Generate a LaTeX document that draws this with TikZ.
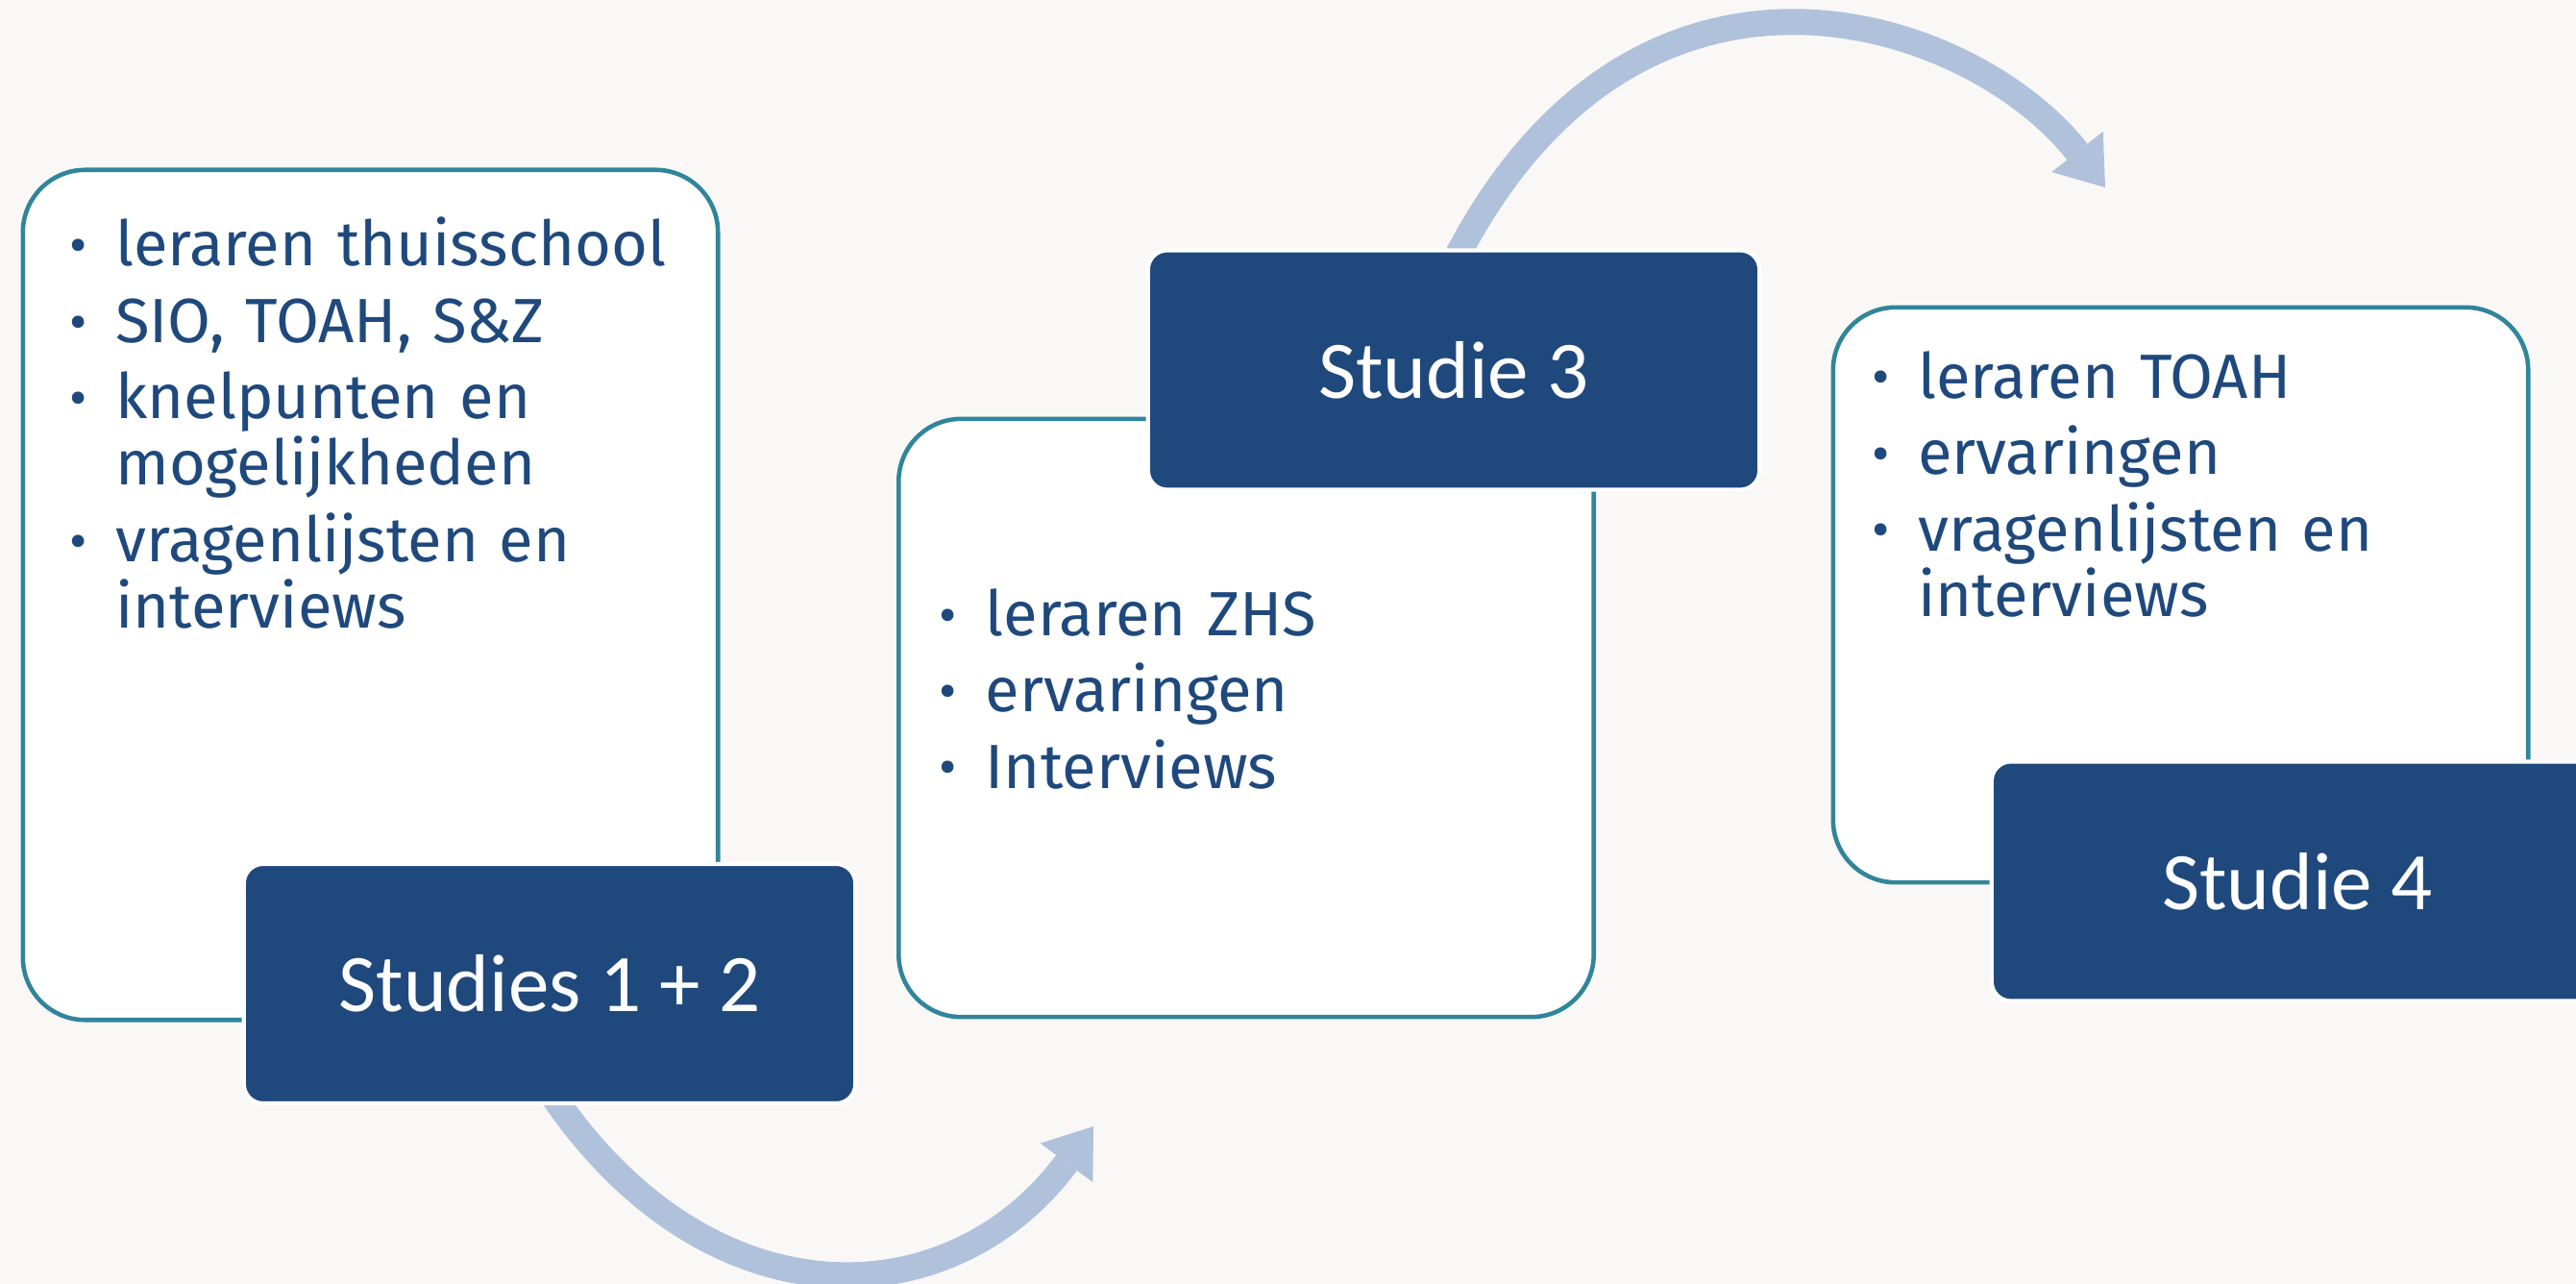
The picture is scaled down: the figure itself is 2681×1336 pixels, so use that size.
\documentclass[tikz,border=0pt]{standalone}
\usepackage{fontspec}
\setmainfont{Fira Sans}
\newfontfamily\titlefont{Carlito}
\usetikzlibrary{positioning, arrows.meta}

\definecolor{bgcol}{RGB}{249,248,246}
\definecolor{navy}{RGB}{31,73,125}
\definecolor{rimcol}{RGB}{49,133,155}
\definecolor{arrowcol}{RGB}{176,193,219}

% one bullet line, hanging indent for the wrapped part
\newcommand{\bitem}[1]{\hangindent=12.8pt\hangafter=1\noindent\makebox[12.8pt][l]{\hspace*{-0.8pt}\raisebox{0.6pt}{\fontsize{16}{16}\selectfont •}}#1\par}

\pgfdeclarelayer{bg}
\pgfdeclarelayer{arrowlayer}
\pgfsetlayers{bg,arrowlayer,main}

\tikzset{
	infobox/.style={draw=rimcol, line width=1.3pt, fill=white, rounded corners=0.65cm, minimum width=7.23cm}, % the white boxes
	titlebox/.style={draw=white, line width=1.2pt, fill=navy, rounded corners=0.2cm, minimum width=6.36cm, minimum height=2.49cm, text=white, font=\titlefont\fontsize{24.2}{28}\selectfont}, % the dark boxes
	bullets/.style={text=navy, anchor=north west, inner sep=0pt, text width=6.4cm, font=\fontsize{18.5}{19.6}\selectfont, execute at begin node={\raggedright\parindent=0pt\parskip=3pt}}, % the lists
	flow/.style={draw=arrowcol, line width=0.27cm, -{Triangle[length=0.47cm, width=0.68cm, line width=0pt]}}, % the curved arrows
}

\begin{document}
\begin{tikzpicture}[x=0.01cm, y=-0.01cm]
	\useasboundingbox (0,0) rectangle (2681,1336);
	\begin{pgfonlayer}{bg}
		\fill[bgcol] (0,0) rectangle (2681,1336);
	\end{pgfonlayer}
	\clip (0,0) rectangle (2681,1336);

	\node[infobox, minimum height=8.84cm] (info1) at (385.5,619) {};
	\node[infobox, minimum height=6.22cm] (info2) at (1297,747) {};
	\node[infobox, minimum height=5.98cm] (info3) at (2269.5,619) {};

	\node[bullets, below right=0.51cm and 0.53cm of info1.north west] (list1) {\bitem{leraren thuisschool}\bitem{SIO, TOAH, S\&Z}\bitem{knelpunten en\newline mogelijkheden}\bitem{vragenlijsten en\newline interviews}};
	\node[bullets, below right=1.78cm and 0.47cm of info2.north west] (list2) {\bitem{leraren ZHS}\bitem{ervaringen}\bitem{Interviews}};
	\node[bullets, below right=0.47cm and 0.45cm of info3.north west] (list3) {\bitem{leraren TOAH}\bitem{ervaringen}\bitem{vragenlijsten en\newline interviews}};

	\node[titlebox] (studie12) at (572,1023.5) {Studies 1 + 2};
	\node[titlebox] (studie3) at (1513,385) {Studie 3};
	\node[titlebox] (studie4) at (2391,917) {Studie 4};

	\coordinate (tip1) at (1138,1172);
	\coordinate (tip2) at (2191,195);
	\begin{pgfonlayer}{arrowlayer}
		\draw[flow] ([yshift=0.15cm]studie12.south) .. controls (737,1382) and (990,1372) .. (tip1);
		\draw[flow] ([yshift=-0.15cm]studie3.north) .. controls (1703,-101) and (2052,18) .. (tip2);
	\end{pgfonlayer}
\end{tikzpicture}
\end{document}
